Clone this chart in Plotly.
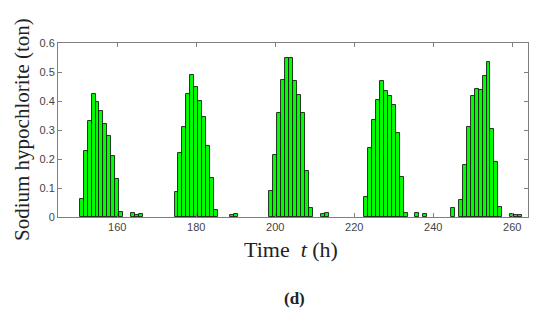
import plotly.graph_objects as go

hours = [151, 152, 153, 154, 155, 156, 157, 158, 159, 160, 161, 164, 165, 166,
         175, 176, 177, 178, 179, 180, 181, 182, 183, 184, 185, 189, 190,
         199, 200, 201, 202, 203, 204, 205, 206, 207, 208, 209, 212, 213,
         223, 224, 225, 226, 227, 228, 229, 230, 231, 232, 233, 236, 238,
         245, 247, 248, 249, 250, 251, 252, 253, 254, 255, 256, 257, 260, 261, 262]
amounts = [0.062, 0.229, 0.331, 0.425, 0.395, 0.365, 0.320, 0.279, 0.211, 0.132, 0.018, 0.015, 0.008, 0.011,
           0.085, 0.220, 0.310, 0.423, 0.489, 0.449, 0.400, 0.345, 0.246, 0.136, 0.023, 0.008, 0.011,
           0.090, 0.215, 0.360, 0.472, 0.547, 0.550, 0.468, 0.420, 0.359, 0.158, 0.031, 0.010, 0.014,
           0.069, 0.238, 0.336, 0.405, 0.470, 0.435, 0.418, 0.385, 0.289, 0.139, 0.015, 0.013, 0.010,
           0.032, 0.060, 0.180, 0.310, 0.418, 0.442, 0.437, 0.485, 0.536, 0.304, 0.191, 0.036, 0.010, 0.007, 0.008]
x_ticks = [160, 180, 200, 220, 240, 260]
y_ticks = [0, 0.1, 0.2, 0.3, 0.4, 0.5, 0.6]
y_tick_labels = ["0", "0.1", "0.2", "0.3", "0.4", "0.5", "0.6"]

fig = go.Figure(go.Bar(
    x=hours, y=amounts, width=1.0,
    marker=dict(color="#00FF00", line=dict(color="#1a1a1a", width=0.9)),
    hoverinfo="skip",
))

axis_common = dict(
    showline=True, linecolor="#7f7f7f", linewidth=1, mirror="ticks",
    ticks="inside", ticklen=4, tickcolor="#7f7f7f", showgrid=False, zeroline=False,
    tickfont=dict(family="Liberation Sans, Arial", size=11, color="#444444"),
)

L, R, T, B = 58, 22, 43, 103
W, H = 550, 320
pw, ph = W - L - R, H - T - B


def px(x, y):
    return (x - L) / pw, (H - B - y) / ph


ann_specs = [
    ("Time  <i>t</i> (h)", 291, 249, 0, 22, False),
    ("Sodium hypochlorite (ton)", 22, 130, -90, 21, False),
    ("(d)", 294, 298, 0, 17, True),
]
annotations = []
for text, x, y, ang, size, bold in ann_specs:
    ax, ay = px(x, y)
    annotations.append(dict(
        text=f"<b>{text}</b>" if bold else text, x=ax, y=ay, xref="paper", yref="paper",
        xanchor="center", yanchor="middle", textangle=ang, showarrow=False,
        font=dict(family="Liberation Serif, Times New Roman", size=size, color="#222222"),
    ))

fig.update_layout(
    width=W, height=H,
    margin=dict(l=L, r=R, t=T, b=B),
    paper_bgcolor="white", plot_bgcolor="white",
    showlegend=False, bargap=0,
    xaxis=dict(range=[145, 264], tickvals=x_ticks, **axis_common),
    yaxis=dict(range=[0, 0.6], tickvals=y_ticks, ticktext=y_tick_labels, **axis_common),
    annotations=annotations,
)

fig.write_html("out.html", config={"displayModeBar": False},
               post_script="document.body.style.margin='0';")
